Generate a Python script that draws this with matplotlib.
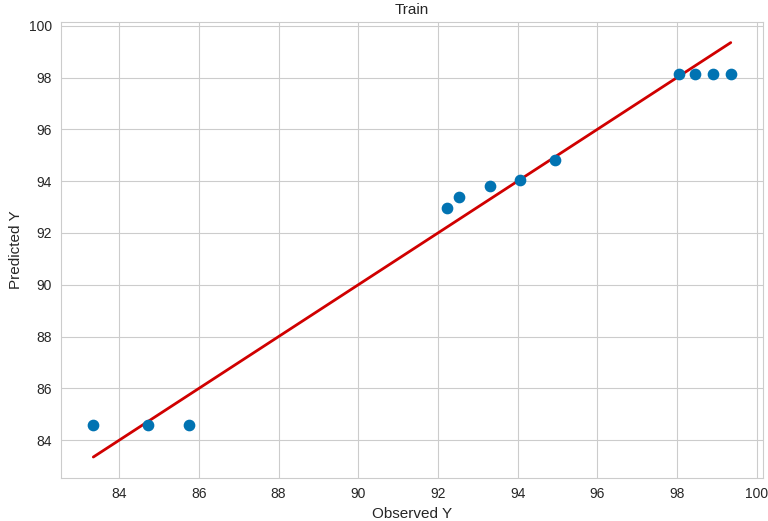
import matplotlib
matplotlib.use("Agg")
import matplotlib.pyplot as plt
import seaborn as sns
import numpy as np

# observed vs predicted values (train)
observed = [83.35, 84.73, 85.75, 92.23, 92.53, 93.3, 94.05, 94.95, 98.05, 98.45, 98.9, 99.35]
predicted = [84.58, 84.58, 84.58, 92.98, 93.37, 93.83, 94.04, 94.8, 98.12, 98.12, 98.12, 98.12]

sns.set_style("whitegrid")
plt.rcParams['font.family'] = ['Liberation Sans', 'DejaVu Sans']

fig, ax = plt.subplots(figsize=(7.68, 5.21), dpi=100)
ax.scatter(observed, predicted, color="#0173b2", s=55, zorder=3)
lo, hi = min(observed), max(observed)
ax.plot([lo, hi], [lo, hi], color="#d00000", linewidth=2, zorder=2)

ax.set_title("Train", fontsize=11)
ax.set_xlabel("Observed Y", fontsize=11)
ax.set_ylabel("Predicted Y", fontsize=11)
ax.set_xticks(np.arange(84, 101, 2))
ax.set_yticks(np.arange(84, 101, 2))
ax.tick_params(labelsize=10)

plt.subplots_adjust(left=0.08, right=0.993, top=0.958, bottom=0.083)
fig.savefig("out.png", dpi=100)
